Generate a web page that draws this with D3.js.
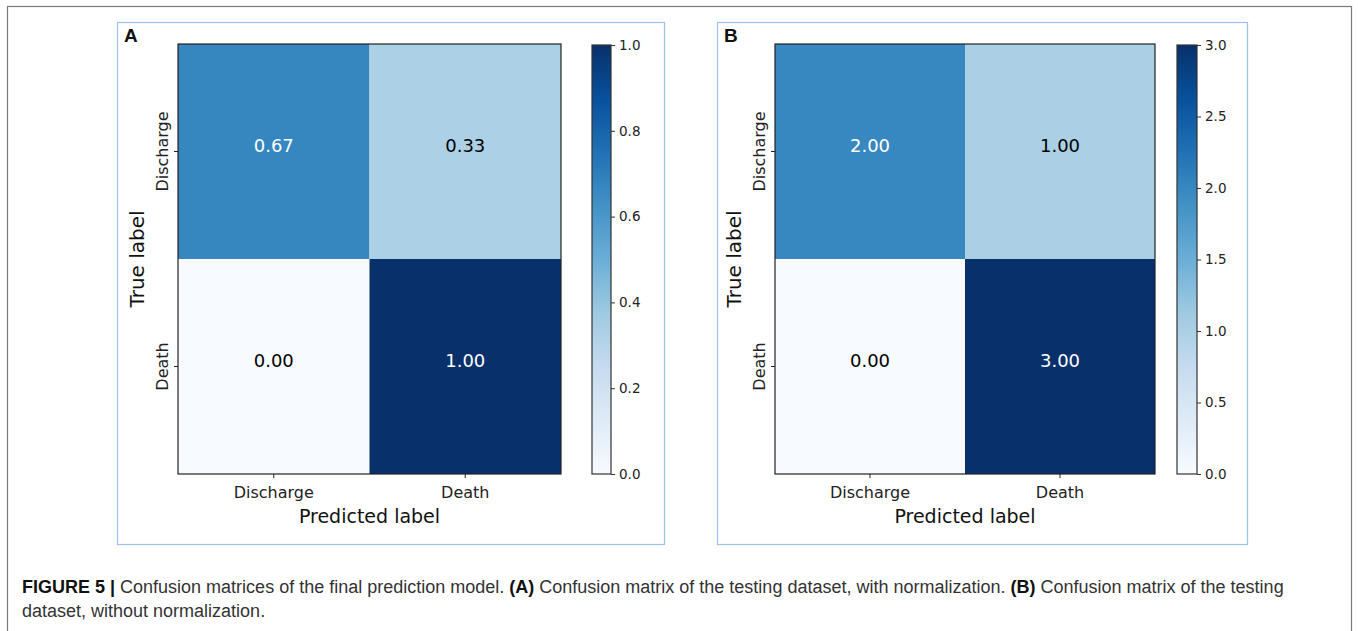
<!DOCTYPE html>
<html>
<head>
<meta charset="utf-8">
<script src="https://cdn.jsdelivr.net/npm/d3@7"></script>
<style>
  html, body { margin: 0; padding: 0; background: #fff; }
  svg { display: block; }
</style>
</head>
<body>
<svg id="fig" width="1358" height="631"></svg>
<script>
// Class names shared by both matrices
const categories = ["Discharge", "Death"];

// (A) normalized confusion matrix, rows = true label, columns = predicted label
const valuesA = [
  [0.67, 0.33],
  [0.00, 1.00]
];
// (B) raw counts
const valuesB = [
  [2, 1],
  [0, 3]
];

// Colour bar tick labels
const ticksA = [0.0, 0.2, 0.4, 0.6, 0.8, 1.0];
const ticksB = [0.0, 0.5, 1.0, 1.5, 2.0, 2.5, 3.0];

// Blues colour map (ColorBrewer 9-class stops, linear between them)
const bluesStops = ["#f7fbff", "#deebf7", "#c6dbef", "#9ecae1", "#6baed6",
                    "#4292c6", "#2171b5", "#08519c", "#08306b"];

const svg = d3.select("#fig");

// Outer figure frame
svg.append("rect")
  .attr("x", 7.5).attr("y", 6.5)
  .attr("width", 1344).attr("height", 640)
  .attr("fill", "none").attr("stroke", "#7a7a7a").attr("stroke-width", 1.2);

function drawPanel(cfg) {
  const { letter, values, ticks, fmt, box, hm, cb } = cfg;
  const g = svg.append("g");
  const vmax = d3.max(values.flat());

  // Panel box
  g.append("rect")
    .attr("x", box.x + 0.5).attr("y", box.y + 0.5)
    .attr("width", box.w).attr("height", box.h)
    .attr("fill", "#fff").attr("stroke", "#9cc4ea").attr("stroke-width", 1.2);

  g.append("text")
    .attr("x", box.x + 7).attr("y", box.y + 20)
    .attr("font-family", "Liberation Sans, Arial, sans-serif")
    .attr("font-weight", "bold").attr("font-size", 19)
    .attr("fill", "#111")
    .text(letter);

  const color = d3.scaleLinear()
    .domain(d3.range(bluesStops.length).map(i => i / (bluesStops.length - 1) * vmax))
    .range(bluesStops)
    .interpolate(d3.interpolateRgb)
    .clamp(true);

  const x = d3.scaleBand().domain(categories).range([hm.x0, hm.x1]);
  const y = d3.scaleBand().domain(categories).range([hm.y0, hm.y1]);

  const cells = [];
  values.forEach((row, i) => row.forEach((v, j) => cells.push({ t: categories[i], p: categories[j], v })));

  g.selectAll("rect.cell").data(cells).enter().append("rect")
    .attr("class", "cell")
    .attr("x", d => x(d.p)).attr("y", d => y(d.t))
    .attr("width", x.bandwidth()).attr("height", y.bandwidth())
    .attr("fill", d => color(d.v));

  g.selectAll("text.val").data(cells).enter().append("text")
    .attr("class", "val")
    .attr("x", d => x(d.p) + x.bandwidth() / 2)
    .attr("y", d => y(d.t) + y.bandwidth() / 2)
    .attr("dy", "0.02em")
    .attr("text-anchor", "middle")
    .attr("font-family", "DejaVu Sans, sans-serif").attr("font-size", 18)
    .attr("fill", d => d.v > vmax / 2 ? "#ffffff" : "#000000")
    .text(d => fmt(d.v));

  // Heatmap frame
  g.append("rect")
    .attr("x", hm.x0).attr("y", hm.y0)
    .attr("width", hm.x1 - hm.x0).attr("height", hm.y1 - hm.y0)
    .attr("fill", "none").attr("stroke", "#222").attr("stroke-width", 1.2);

  // Axes
  const xAxis = g.append("g")
    .attr("transform", `translate(0,${hm.y1})`)
    .call(d3.axisBottom(x).tickSize(4).tickPadding(9));
  xAxis.select(".domain").remove();
  xAxis.selectAll("text")
    .attr("font-family", "DejaVu Sans, sans-serif").attr("font-size", 16).attr("fill", "#222");
  xAxis.selectAll("line").attr("stroke", "#222");

  const yAxis = g.append("g")
    .attr("transform", `translate(${hm.x0},0)`)
    .call(d3.axisLeft(y).tickSize(4).tickPadding(6));
  yAxis.select(".domain").remove();
  yAxis.selectAll("line").attr("stroke", "#222");
  yAxis.selectAll("text")
    .attr("font-family", "DejaVu Sans, sans-serif").attr("font-size", 16).attr("fill", "#222")
    .attr("text-anchor", "middle").attr("x", 0).attr("dy", 0)
    .attr("transform", "translate(-10,0) rotate(-90)");

  // Axis titles
  g.append("text")
    .attr("x", (hm.x0 + hm.x1) / 2).attr("y", hm.y1 + 49)
    .attr("text-anchor", "middle")
    .attr("font-family", "DejaVu Sans, sans-serif").attr("font-size", 19).attr("fill", "#111")
    .text("Predicted label");
  g.append("text")
    .attr("transform", `translate(${hm.x0 - 34},${(hm.y0 + hm.y1) / 2}) rotate(-90)`)
    .attr("text-anchor", "middle")
    .attr("font-family", "DejaVu Sans, sans-serif").attr("font-size", 20).attr("fill", "#111")
    .text("True label");

  // Colour bar
  const cbScale = d3.scaleLinear().domain([0, vmax]).range([cb.y1, cb.y0]);
  const gradId = "grad" + letter;
  const grad = svg.append("defs").append("linearGradient")
    .attr("id", gradId).attr("x1", 0).attr("y1", 1).attr("x2", 0).attr("y2", 0);
  bluesStops.forEach((c, i) => {
    grad.append("stop").attr("offset", i / (bluesStops.length - 1)).attr("stop-color", c);
  });
  g.append("rect")
    .attr("x", cb.x0).attr("y", cb.y0)
    .attr("width", cb.x1 - cb.x0).attr("height", cb.y1 - cb.y0)
    .attr("fill", `url(#${gradId})`)
    .attr("stroke", "#333").attr("stroke-width", 1.2);

  const cbAxis = g.append("g")
    .attr("transform", `translate(${cb.x1},0)`)
    .call(d3.axisRight(cbScale).tickValues(ticks).tickFormat(d3.format(".1f")).tickSize(4).tickPadding(4));
  cbAxis.select(".domain").remove();
  cbAxis.selectAll("line").attr("stroke", "#333");
  cbAxis.selectAll("text")
    .attr("font-family", "DejaVu Sans, sans-serif").attr("font-size", 13.5).attr("fill", "#222");
}

drawPanel({
  letter: "A", values: valuesA, ticks: ticksA, fmt: d3.format(".2f"),
  box: { x: 117, y: 22, w: 547, h: 522 },
  hm: { x0: 178, x1: 561, y0: 44, y1: 474 },
  cb: { x0: 592, x1: 611, y0: 45, y1: 474 }
});

drawPanel({
  letter: "B", values: valuesB, ticks: ticksB, fmt: d3.format(".2f"),
  box: { x: 717, y: 22, w: 530, h: 522 },
  hm: { x0: 775, x1: 1155, y0: 44, y1: 474 },
  cb: { x0: 1177, x1: 1197, y0: 45, y1: 474 }
});

// Caption
const caption = svg.append("text")
  .attr("font-family", "Liberation Sans, Arial, sans-serif").attr("font-size", 18)
  .attr("fill", "#333");
const line1 = caption.append("tspan").attr("x", 22).attr("y", 593);
line1.append("tspan").attr("font-weight", "bold").attr("fill", "#111").text("FIGURE 5 | ");
line1.append("tspan").text("Confusion matrices of the final prediction model. ");
line1.append("tspan").attr("font-weight", "bold").attr("fill", "#111").text("(A)");
line1.append("tspan").text(" Confusion matrix of the testing dataset, with normalization. ");
line1.append("tspan").attr("font-weight", "bold").attr("fill", "#111").text("(B)");
line1.append("tspan").text(" Confusion matrix of the testing");
caption.append("tspan").attr("x", 22).attr("y", 617).text("dataset, without normalization.");
</script>
</body>
</html>
